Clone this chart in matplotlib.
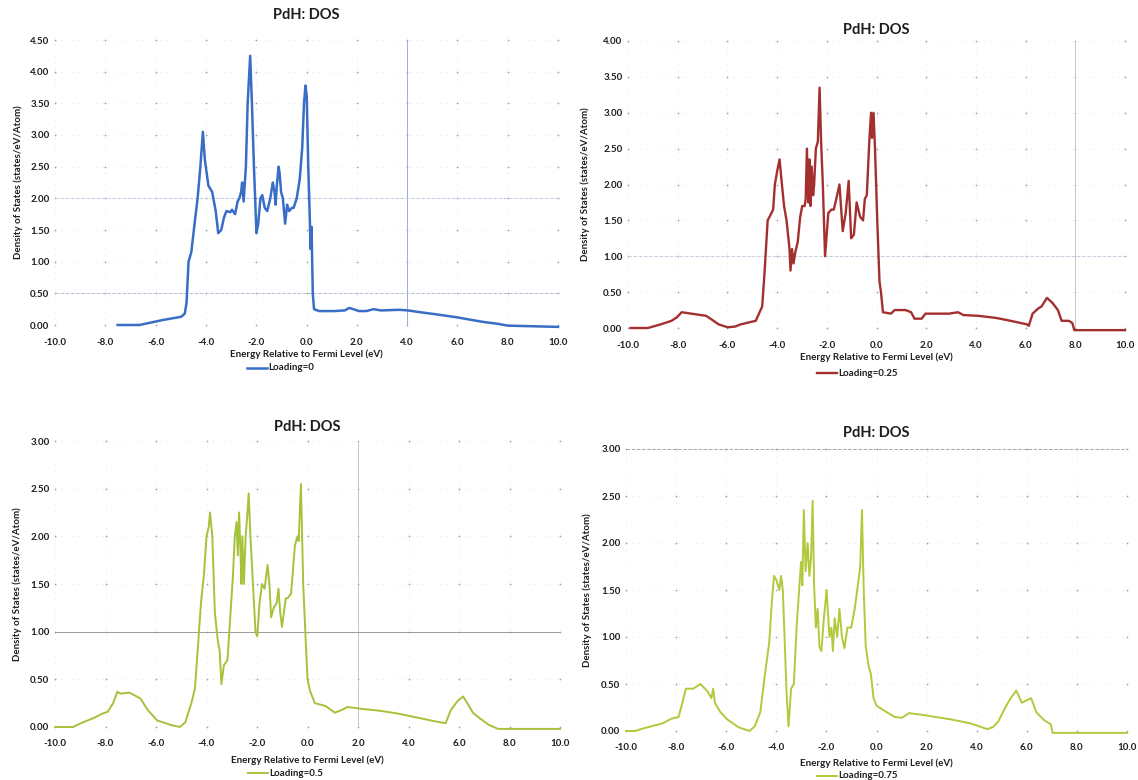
import matplotlib
matplotlib.use("Agg")
import matplotlib.pyplot as plt
from matplotlib.lines import Line2D
from matplotlib.ticker import FixedLocator, FormatStrFormatter

plt.rcParams["font.family"] = ["Lato", "DejaVu Sans"]
plt.rcParams["axes.unicode_minus"] = False

# ---- Density of states, PdH, four hydrogen loadings ----
e_load0 = [-7.51, -6.64, -5.7, -4.98, -4.84, -4.77, -4.69, -4.58, -4.45, -4.33, -4.22, -4.12,
           -4.04, -3.9, -3.75, -3.61, -3.51, -3.39, -3.28, -3.18, -3.03, -2.96, -2.84, -2.74,
           -2.67, -2.6, -2.56, -2.5, -2.41, -2.34, -2.24, -2.17, -2.09, -1.99, -1.92, -1.83,
           -1.76, -1.66, -1.56, -1.44, -1.34, -1.27, -1.23, -1.18, -1.11, -1.07, -1.01, -0.94,
           -0.85, -0.77, -0.69, -0.58, -0.51, -0.39, -0.27, -0.17, -0.10, -0.04, 0.01, 0.07,
           0.13, 0.16, 0.20, 0.25, 0.30, 0.50, 1.08, 1.52, 1.70, 2.09, 2.38, 2.67, 2.96, 3.68,
           4.04, 4.55, 5.13, 6.0, 6.57, 7.0, 7.58, 8.01, 10.0]
dos_load0 = [0.0, 0.0, 0.08, 0.13, 0.18, 0.35, 1.0, 1.15, 1.6, 2.0, 2.5, 3.05,
             2.6, 2.2, 2.1, 1.8, 1.45, 1.5, 1.7, 1.8, 1.78, 1.82, 1.75, 1.95,
             2.0, 2.1, 2.25, 1.95, 2.5, 3.5, 4.25, 3.5, 2.5, 1.45, 1.6, 2.0,
             2.05, 1.85, 1.8, 2.0, 2.25, 2.1, 1.9, 2.2, 2.5, 2.4, 2.1, 2.0,
             1.6, 1.9, 1.8, 1.85, 1.85, 2.0, 2.3, 2.8, 3.5, 3.78, 3.6, 2.5,
             1.7, 1.2, 1.55, 0.5, 0.25, 0.22, 0.22, 0.23, 0.27, 0.22, 0.22, 0.25, 0.23, 0.24,
             0.23, 0.2, 0.17, 0.12, 0.08, 0.05, 0.02, -0.01, -0.03]

e_load25 = [-9.9, -9.2, -8.69, -8.25, -8.03, -7.84, -7.45, -6.86, -6.64, -6.35, -5.99, -5.69,
            -5.47, -5.11, -4.86, -4.6, -4.5, -4.38, -4.23, -4.16, -4.09, -3.99, -3.9, -3.82,
            -3.72, -3.62, -3.5, -3.46, -3.4, -3.34, -3.27, -3.17, -3.07, -2.99, -2.89, -2.85,
            -2.8, -2.74, -2.7, -2.66, -2.61, -2.55, -2.51, -2.44, -2.36, -2.29, -2.23, -2.16,
            -2.07, -1.94, -1.82, -1.72, -1.65, -1.49, -1.36, -1.24, -1.12, -1.02, -0.91, -0.8,
            -0.66, -0.54, -0.47, -0.39, -0.29, -0.22, -0.18, -0.12, -0.06, 0.03, 0.12, 0.18,
            0.26, 0.58, 0.73, 1.17, 1.39, 1.53, 1.82, 1.97, 2.48, 2.92, 3.28, 3.5, 4.09, 4.82,
            5.4, 6.06, 6.13, 6.28, 6.5, 6.64, 6.86, 7.08, 7.3, 7.45, 7.74, 7.88, 7.96, 10.0]
dos_load25 = [0.0, 0.0, 0.05, 0.1, 0.15, 0.22, 0.2, 0.17, 0.12, 0.05, 0.01, 0.02,
              0.05, 0.08, 0.1, 0.3, 0.8, 1.5, 1.6, 1.65, 2.0, 2.2, 2.35, 2.05,
              1.7, 1.5, 1.1, 0.8, 1.1, 0.9, 1.05, 1.2, 1.55, 1.7, 1.7, 1.8,
              2.5, 1.75, 2.35, 1.7, 2.25, 1.85, 2.0, 2.5, 2.6, 3.35, 2.6, 2.0,
              1.0, 1.6, 1.65, 1.65, 1.75, 2.0, 1.35, 1.6, 2.05, 1.25, 1.3, 1.75,
              1.55, 1.5, 1.8, 1.85, 2.6, 3.0, 2.65, 3.0, 2.5, 1.5, 0.65, 0.5,
              0.22, 0.2, 0.25, 0.25, 0.22, 0.13, 0.13, 0.2, 0.2, 0.2, 0.22, 0.18, 0.17, 0.14,
              0.1, 0.05, 0.03, 0.2, 0.27, 0.3, 0.42, 0.35, 0.25, 0.1, 0.1, 0.07, -0.03, -0.03]

e_load50 = [-10.0, -9.28, -9.06, -8.42, -8.13, -7.91, -7.7, -7.53, -7.41, -7.05, -6.62, -6.33,
            -5.96, -5.4, -5.05, -4.84, -4.6, -4.46, -4.35, -4.22, -4.1, -4.0, -3.91, -3.86,
            -3.77, -3.67, -3.55, -3.48, -3.41, -3.31, -3.17, -2.95, -2.88, -2.81, -2.76, -2.71,
            -2.66, -2.62, -2.58, -2.52, -2.45, -2.39, -2.33, -2.26, -2.16, -2.06, -1.99, -1.9,
            -1.8, -1.7, -1.58, -1.51, -1.44, -1.34, -1.22, -1.15, -1.08, -1.01, -0.86, -0.79,
            -0.65, -0.5, -0.4, -0.35, -0.26, -0.17, -0.07, 0.0, 0.1, 0.29, 0.72, 1.08, 1.37,
            1.58, 2.16, 2.88, 3.6, 4.32, 5.04, 5.47, 5.68, 5.97, 6.16, 6.33, 6.55, 6.83, 7.19,
            7.55, 10.0]
dos_load50 = [0.0, 0.0, 0.03, 0.1, 0.14, 0.16, 0.25, 0.37, 0.35, 0.36, 0.3, 0.18,
              0.07, 0.02, 0.0, 0.05, 0.25, 0.4, 0.8, 1.3, 1.6, 2.0, 2.1, 2.25,
              2.0, 1.2, 0.9, 0.8, 0.45, 0.65, 0.7, 1.6, 2.0, 2.15, 1.8, 2.25,
              1.9, 1.5, 2.0, 1.5, 2.0, 2.2, 2.45, 2.0, 1.5, 1.0, 0.95, 1.3,
              1.5, 1.45, 1.7, 1.5, 1.15, 1.25, 1.3, 1.45, 1.2, 1.05, 1.35, 1.35,
              1.4, 1.9, 2.0, 1.95, 2.55, 1.5, 0.9, 0.5, 0.38, 0.25, 0.22, 0.15, 0.18,
              0.21, 0.19, 0.17, 0.14, 0.1, 0.06, 0.04, 0.18, 0.28, 0.32, 0.25, 0.15, 0.09, 0.02,
              -0.02, -0.02]

e_load75 = [-10.0, -9.64, -9.28, -8.55, -8.19, -7.9, -7.75, -7.61, -7.32, -7.03, -6.74, -6.59,
            -6.52, -6.45, -6.23, -5.94, -5.51, -5.07, -4.86, -4.64, -4.43, -4.28, -4.17, -4.09,
            -3.99, -3.88, -3.81, -3.74, -3.67, -3.59, -3.51, -3.41, -3.3, -3.19, -3.09, -3.01,
            -2.96, -2.9, -2.83, -2.75, -2.68, -2.61, -2.55, -2.49, -2.42, -2.35, -2.28, -2.2,
            -2.1, -1.99, -1.88, -1.8, -1.74, -1.67, -1.57, -1.48, -1.38, -1.28, -1.16, -1.01,
            -0.87, -0.72, -0.65, -0.58, -0.51, -0.43, -0.32, -0.22, -0.12, 0.0, 0.29, 0.72,
            1.01, 1.3, 1.88, 3.04, 3.77, 4.42, 4.64, 4.86, 5.14, 5.36, 5.58, 5.8, 6.17, 6.38,
            6.67, 6.96, 7.03, 10.0]
dos_load75 = [0.0, 0.0, 0.03, 0.08, 0.13, 0.15, 0.3, 0.45, 0.45, 0.5, 0.42, 0.35,
              0.45, 0.3, 0.2, 0.12, 0.04, 0.0, 0.05, 0.2, 0.65, 0.95, 1.4, 1.65,
              1.6, 1.5, 1.65, 1.5, 1.0, 0.4, 0.05, 0.45, 0.5, 1.1, 1.5, 1.8,
              1.55, 2.35, 1.7, 2.0, 1.65, 1.85, 2.45, 1.55, 1.1, 1.3, 0.9, 0.85,
              1.2, 1.5, 1.0, 1.1, 0.85, 1.2, 1.0, 1.3, 1.0, 0.88, 1.1, 1.1,
              1.3, 1.6, 1.75, 2.35, 1.5, 0.9, 0.7, 0.6, 0.35, 0.27, 0.22, 0.15,
              0.14, 0.19, 0.17, 0.12, 0.08, 0.02, 0.04, 0.1, 0.25, 0.35, 0.43, 0.3, 0.35, 0.2,
              0.12, 0.07, -0.02, -0.02]

x_ticks = [-10.0, -8.0, -6.0, -4.0, -2.0, 0.0, 2.0, 4.0, 6.0, 8.0, 10.0]
title = "PdH: DOS"
x_label = "Energy Relative to Fermi Level (eV)"
y_label = "Density of States (states/eV/Atom)"

FIG_W, FIG_H = 1138, 780
fig = plt.figure(figsize=(FIG_W / 100, FIG_H / 100), dpi=100)
fig.patch.set_facecolor("white")


def px_axes(left, right, top, bottom):
    return fig.add_axes([left / FIG_W, 1 - bottom / FIG_H,
                         (right - left) / FIG_W, (bottom - top) / FIG_H])


panels = [
    # energies, dos, colour, line width, legend, ymax, box (px), title_y, xlabel_y, legend_y,
    # ylabel_x, darker gridlines (vertical at x, horizontal at y)
    (e_load0, dos_load0, "#386ec6", 1.8, "Loading=0", 4.5, (55, 558, 40, 325), 15, 354, 368, 18,
     [(4.0, "#98acd6", "-")], [(0.5, "#b4c0d8", "--"), (2.0, "#c4cde0", "--")]),
    (e_load25, dos_load25, "#a3302f", 1.7, "Loading=0.25", 4.0, (628, 1125, 41, 328), 30, 357, 373, 585,
     [(8.0, "#c8c8c8", "-")], [(1.0, "#c8d0e0", "--")]),
    (e_load50, dos_load50, "#a5c23a", 1.4, "Loading=0.5", 3.0, (55, 560, 441, 727), 427, 760, 773, 17,
     [(2.0, "#c6c6c6", "-")], [(1.0, "#9a9a9a", "-")]),
    (e_load75, dos_load75, "#b0ca3c", 1.4, "Loading=0.75", 3.0, (626, 1127, 449, 731), 433, 763, 776, 587,
     [], [(3.0, "#a8a8a8", "--")]),
]

for (energies, dos, color, lw, label, ymax, box, ty, xly, lgy, ylx, vlines, hlines) in panels:
    left, right, top, bottom = box
    ax = px_axes(left, right, top, bottom)
    ax.set_xlim(-10, 10)
    ax.set_ylim(0, ymax)
    ax.xaxis.set_major_locator(FixedLocator(x_ticks))
    yt = [i * 0.5 for i in range(int(round(ymax / 0.5)) + 1)]
    ax.yaxis.set_major_locator(FixedLocator(yt))
    ax.xaxis.set_major_formatter(FormatStrFormatter("%.1f"))
    ax.yaxis.set_major_formatter(FormatStrFormatter("%.2f"))
    for s in ax.spines.values():
        s.set_visible(False)
    ax.tick_params(length=0, labelsize=7, pad=4, colors="#1e1e1e")
    ax.tick_params(axis="x", pad=9)
    for t in ax.get_xticklabels() + ax.get_yticklabels():
        t.set_fontweight("bold")
    # faint dotted grid with small dots at the intersections
    ax.grid(True, color="#e4e7ec", linestyle=(0, (1, 5)), linewidth=0.7)
    ax.set_axisbelow(True)
    gx = [x for x in x_ticks for _ in yt]
    gy = [y for _ in x_ticks for y in yt]
    ax.scatter(gx, gy, s=1.6, color="#9ea5b0", linewidths=0, zorder=1, clip_on=False)
    for xv, c, ls in vlines:
        ax.axvline(xv, color=c, linewidth=0.7, linestyle=ls, zorder=1.5)
    for yv, c, ls in hlines:
        ax.axhline(yv, color=c, linewidth=0.7, linestyle=ls, zorder=1.5)
    ax.plot(energies, dos, color=color, linewidth=lw, clip_on=False,
            solid_joinstyle="round", zorder=3)

    cx = (left + right) / 2
    fig.text(cx / FIG_W, 1 - ty / FIG_H, title, ha="center", va="center",
             fontsize=10.5, fontweight="bold", color="#1e1e1e")
    fig.text(cx / FIG_W, 1 - xly / FIG_H, x_label, ha="center", va="center",
             fontsize=7, fontweight="bold", color="#1e1e1e")
    fig.text(ylx / FIG_W, 1 - ((top + bottom) / 2) / FIG_H, y_label, ha="center", va="center",
             rotation=90, fontsize=7, fontweight="bold", color="#1e1e1e")
    # legend entry: short line sample followed by the series name
    lx = cx - 38
    fig.add_artist(Line2D([(lx - 22) / FIG_W, (lx - 2) / FIG_W], [1 - lgy / FIG_H] * 2,
                          color=color, linewidth=lw))
    fig.text(lx / FIG_W, 1 - lgy / FIG_H, label, ha="left", va="center",
             fontsize=7, fontweight="bold", color="#1e1e1e")

fig.savefig("out.png", dpi=100, facecolor="white")
